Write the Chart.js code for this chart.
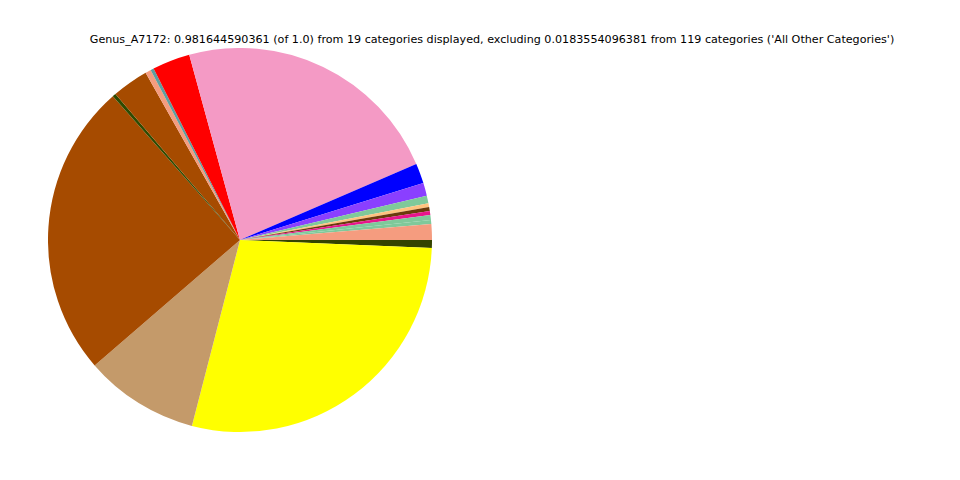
<!DOCTYPE html>
<html>
<head>
<meta charset="utf-8">
<script src="https://cdn.jsdelivr.net/npm/chart.js@4"></script>
<style>
  html, body { margin: 0; padding: 0; background: #fff; }
  #wrap { position: relative; width: 960px; height: 480px; }
  #title {
    position: absolute; left: 0; width: 984px; top: 33px;
    text-align: center; font-family: "DejaVu Sans", sans-serif; font-size: 11.15px; color: #000;
    white-space: nowrap;
  }
  #box { position: absolute; left: 48px; top: 48px; width: 384px; height: 384px; }
</style>
</head>
<body>
<div id="wrap">
  <div id="title">Genus_A7172: 0.981644590361 (of 1.0) from 19 categories displayed, excluding 0.0183554096381 from 119 categories ('All Other Categories')</div>
  <div id="box"><canvas id="pie"></canvas></div>
</div>
<script>
// slices in counterclockwise order starting at 3 o'clock (as drawn)
const categories = [
  "cat1", "cat2", "cat3", "cat4", "cat5", "cat6", "cat7", "cat8", "cat9", "cat10",
  "cat11", "cat12", "cat13", "cat14", "cat15", "cat16", "cat17", "cat18", "cat19"
]
const values = [
  0.0133, 0.0033, 0.0042, 0.0033, 0.0033, 0.0033, 0.0064, 0.0108, 0.0169, 0.2278,
  0.0317, 0.0028, 0.0047, 0.0306, 0.0028, 0.2481, 0.0964, 0.2836, 0.0067
]
const colors = [
  "#F59C7F", "#7FC99A", "#7FC99A", "#E8158C", "#6B3A0B", "#FFC37F", "#7FC99A", "#8A3FFF", "#0000FF", "#F49AC5",
  "#FF0000", "#5F9EA0", "#F59C7F", "#A64B00", "#2E4A00", "#A64B00", "#C49A6A", "#FFFF00", "#344400"
]

// Chart.js draws clockwise, so reverse to keep the counterclockwise order
const rev = a => a.slice().reverse()

new Chart(document.getElementById("pie"), {
  type: "pie",
  data: {
    labels: rev(categories),
    datasets: [{
      data: rev(values),
      backgroundColor: rev(colors),
      borderWidth: 0
    }]
  },
  options: {
    responsive: true,
    maintainAspectRatio: false,
    animation: false,
    rotation: 90,
    layout: { padding: 0 },
    plugins: {
      legend: { display: false },
      tooltip: { enabled: false }
    }
  }
})
</script>
</body>
</html>
